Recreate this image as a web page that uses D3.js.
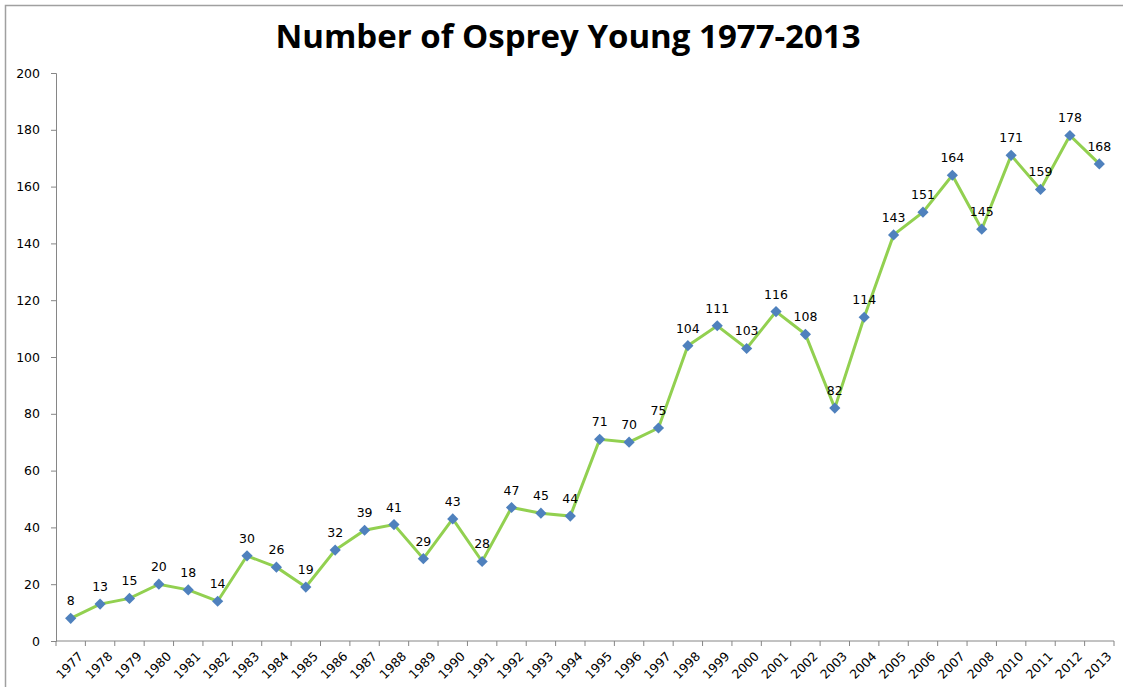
<!DOCTYPE html>
<html>
<head>
<meta charset="utf-8">
<script src="https://cdn.jsdelivr.net/npm/d3@7"></script>
<style>
  body { margin: 0; background: #fff; }
  text { font-family: "DejaVu Sans", sans-serif; }
</style>
</head>
<body>
<svg width="1123" height="687"></svg>
<script>
var years = ["1977","1978","1979","1980","1981","1982","1983","1984","1985","1986","1987","1988","1989","1990","1991","1992","1993","1994","1995","1996","1997","1998","1999","2000","2001","2002","2003","2004","2005","2006","2007","2008","2010","2011","2012","2013"];
var young = [8,13,15,20,18,14,30,26,19,32,39,41,29,43,28,47,45,44,71,70,75,104,111,103,116,108,82,114,143,151,164,145,171,159,178,168];
var yTicks = [0,20,40,60,80,100,120,140,160,180,200];

var svg = d3.select("svg"),
  margin = {top: 73, left: 56, right: 9, bottom: 46},
  width = 1123 - margin.left - margin.right,
  height = 687 - margin.top - margin.bottom;

// chart border
svg.append("rect")
  .attr("x", 5.5).attr("y", 5.5)
  .attr("width", 1130).attr("height", 700)
  .attr("fill", "none").attr("stroke", "#a0a0a0").attr("stroke-width", 1.5);

svg.append("text")
  .attr("x", 568).attr("y", 48)
  .attr("text-anchor", "middle")
  .style("font-family", "'Open Sans', sans-serif")
  .style("font-weight", "bold")
  .style("font-size", "33px")
  .text("Number of Osprey Young 1977-2013");

var x = d3.scaleBand().domain(years).range([0, width]);
var y = d3.scaleLinear().domain([0, 200]).range([height, 0]);

var g = svg.append("g")
  .attr("transform", "translate(" + margin.left + "," + margin.top + ")");

// y axis
var yAxis = g.append("g")
  .call(d3.axisLeft(y).tickValues(yTicks).tickSize(5).tickPadding(11));
yAxis.selectAll("text").style("font-size", "12.5px").attr("fill", "#000");

// x axis with ticks at category boundaries
var xAxis = g.append("g").attr("transform", "translate(0," + height + ")");
xAxis.append("line")
  .attr("x1", 0).attr("x2", width)
  .attr("stroke", "#868686");
xAxis.selectAll(".tk")
  .data(d3.range(years.length + 1))
  .enter().append("line")
  .attr("x1", function(i) { return i * x.step(); })
  .attr("x2", function(i) { return i * x.step(); })
  .attr("y1", 0).attr("y2", 5)
  .attr("stroke", "#868686");
xAxis.selectAll(".lbl")
  .data(years)
  .enter().append("text")
  .attr("transform", function(d) {
    return "translate(" + (x(d) + x.bandwidth() / 2 + 7) + ",10) rotate(-45)";
  })
  .attr("text-anchor", "end")
  .attr("dy", "0.7em")
  .style("font-size", "12.5px")
  .text(function(d) { return d; });

yAxis.select(".domain").attr("stroke", "#868686");
yAxis.selectAll(".tick line").attr("stroke", "#868686");

var cx = function(d, i) { return x(years[i]) + x.bandwidth() / 2; };

var line = d3.line()
  .x(function(d, i) { return cx(d, i); })
  .y(function(d) { return y(d); });

g.append("path")
  .datum(young)
  .attr("d", line)
  .attr("fill", "none")
  .attr("stroke", "#92d050")
  .attr("stroke-width", 3);

g.selectAll(".pt")
  .data(young)
  .enter().append("path")
  .attr("d", d3.symbol().type(d3.symbolDiamond2).size(80))
  .attr("transform", function(d, i) { return "translate(" + cx(d, i) + "," + y(d) + ")"; })
  .attr("fill", "#4f81bd");

g.selectAll(".val")
  .data(young)
  .enter().append("text")
  .attr("x", function(d, i) { return cx(d, i); })
  .attr("y", function(d) { return y(d) - 13; })
  .attr("text-anchor", "middle")
  .style("font-size", "12.5px")
  .text(function(d) { return d; });
</script>
</body>
</html>
